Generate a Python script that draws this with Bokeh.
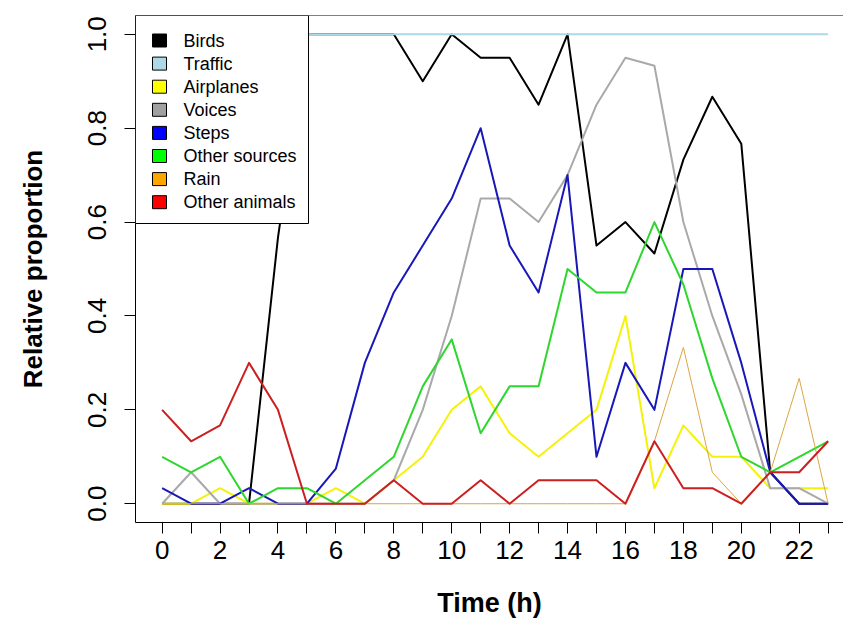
from bokeh.plotting import figure
from bokeh.models import (Range1d, FixedTicker, Span, BoxAnnotation, Label,
                          NumeralTickFormatter)
from bokeh.embed import file_html
from bokeh.resources import INLINE

# ---------------- data ----------------
hours = list(range(24))
series_names = ["Birds", "Traffic", "Airplanes", "Voices", "Steps",
                "Other sources", "Rain", "Other animals"]
birds = [0, 0, 0, 0, 0.567, 1, 1, 1, 1, 0.9, 1, 0.95, 0.95, 0.85, 1, 0.55,
         0.6, 0.533, 0.733, 0.867, 0.767, 0.067, 0, 0]
traffic = [1] * 24
airplanes = [0, 0, 0.033, 0, 0, 0, 0.033, 0, 0.05, 0.1, 0.2, 0.25, 0.15, 0.1,
             0.15, 0.2, 0.4, 0.033, 0.167, 0.1, 0.1, 0.033, 0.033, 0.033]
voices = [0, 0.067, 0, 0, 0, 0, 0, 0, 0.05, 0.2, 0.4, 0.65, 0.65, 0.6, 0.7,
          0.85, 0.95, 0.933, 0.6, 0.4, 0.233, 0.033, 0.033, 0]
steps = [0.033, 0, 0, 0.033, 0, 0, 0.075, 0.3, 0.45, 0.55, 0.65, 0.8, 0.55,
         0.45, 0.7, 0.1, 0.3, 0.2, 0.5, 0.5, 0.3, 0.067, 0, 0]
other_sources = [0.1, 0.067, 0.1, 0, 0.033, 0.033, 0, 0.05, 0.1, 0.25, 0.35,
                 0.15, 0.25, 0.25, 0.5, 0.45, 0.45, 0.6, 0.467, 0.267, 0.1,
                 0.067, 0.1, 0.133]
rain = [0, 0, 0, 0, 0, 0, 0, 0, 0, 0, 0, 0, 0, 0, 0, 0, 0, 0.133, 0.333,
        0.067, 0, 0.067, 0.267, 0]
other_animals = [0.2, 0.133, 0.167, 0.3, 0.2, 0, 0, 0, 0.05, 0, 0, 0.05, 0,
                 0.05, 0.05, 0.05, 0, 0.133, 0.033, 0.033, 0, 0.067, 0.067,
                 0.133]
x_ticks = list(range(24))
y_ticks = [0, 0.2, 0.4, 0.6, 0.8, 1.0]

series = [birds, traffic, airplanes, voices, steps, other_sources, rain,
          other_animals]
line_colors = ["#000000", "#ADD8E6", "#F5F20A", "#A9A9A9", "#1818B8",
               "#2ED62E", "#DDA640", "#CC1F1F"]
swatch_colors = ["#000000", "#ADD8E6", "#FFFF00", "#A0A0A0", "#0000FF",
                 "#00FF00", "#FFA500", "#FF0000"]
line_widths = [2, 2, 2, 2, 2, 2, 1, 2]

FONT = "Liberation Sans"

p = figure(width=843, height=642, output_backend="svg", toolbar_location=None,
           x_range=Range1d(-0.92, 23.53), y_range=Range1d(-0.04, 1.04),
           min_border_left=135, min_border_right=0, min_border_top=15,
           min_border_bottom=120)
p.background_fill_color = "white"
p.border_fill_color = "white"
p.outline_line_color = None
p.xgrid.visible = False
p.ygrid.visible = False

for ys, c, w in zip(series, line_colors, line_widths):
    p.line(hours, ys, line_color=c, line_width=w, line_join="round")

# top edge of the box
p.add_layout(Span(location=1.04, dimension="width", line_color="black",
                  line_width=1))

# axes
xa = p.xaxis[0]
xa.ticker = FixedTicker(ticks=x_ticks)
xa.major_label_overrides = {h: (str(h) if h % 2 == 0 else "") for h in x_ticks}
xa.minor_tick_line_color = None
xa.major_tick_out = 11
xa.major_tick_in = 0
xa.major_label_standoff = 7
xa.major_label_text_font = FONT
xa.major_label_text_font_size = "26px"
xa.major_label_text_color = "black"
xa.axis_label = "Time (h)"
xa.axis_label_text_font = FONT
xa.axis_label_text_font_size = "27px"
xa.axis_label_text_font_style = "bold"
xa.axis_label_text_color = "black"
xa.axis_label_standoff = 26
xa.axis_line_color = "black"
xa.major_tick_line_color = "black"

ya = p.yaxis[0]
ya.ticker = FixedTicker(ticks=y_ticks)
ya.formatter = NumeralTickFormatter(format="0.0")
ya.minor_tick_line_color = None
ya.major_tick_out = 11
ya.major_tick_in = 0
ya.major_label_orientation = "vertical"
ya.major_label_standoff = 18
ya.major_label_text_font = FONT
ya.major_label_text_font_size = "26px"
ya.major_label_text_color = "black"
ya.axis_label = "Relative proportion"
ya.axis_label_text_font = FONT
ya.axis_label_text_font_size = "26px"
ya.axis_label_text_font_style = "bold"
ya.axis_label_text_color = "black"
ya.axis_label_standoff = 38
ya.axis_line_color = "black"
ya.major_tick_line_color = "black"

# legend (R style: filled boxes), placed in screen units inside the frame
p.add_layout(BoxAnnotation(left=0, right=173, top=507, bottom=299,
                           left_units="screen", right_units="screen",
                           top_units="screen", bottom_units="screen",
                           fill_color="white", fill_alpha=1.0,
                           line_color="black", line_width=1, line_alpha=1.0))
for i, (name, sc) in enumerate(zip(series_names, swatch_colors)):
    cy = 482 - 23.1 * i
    p.add_layout(BoxAnnotation(left=17, right=31, top=cy + 6.5, bottom=cy - 6.5,
                               left_units="screen", right_units="screen",
                               top_units="screen", bottom_units="screen",
                               fill_color=sc, fill_alpha=1.0,
                               line_color="black", line_width=1,
                               line_alpha=1.0))
    p.add_layout(Label(x=48, y=cy, x_units="screen", y_units="screen",
                       text=name, text_font=FONT, text_font_size="18px",
                       text_baseline="middle", text_align="left",
                       text_color="black"))

open("out.html", "w").write(file_html(p, INLINE))
